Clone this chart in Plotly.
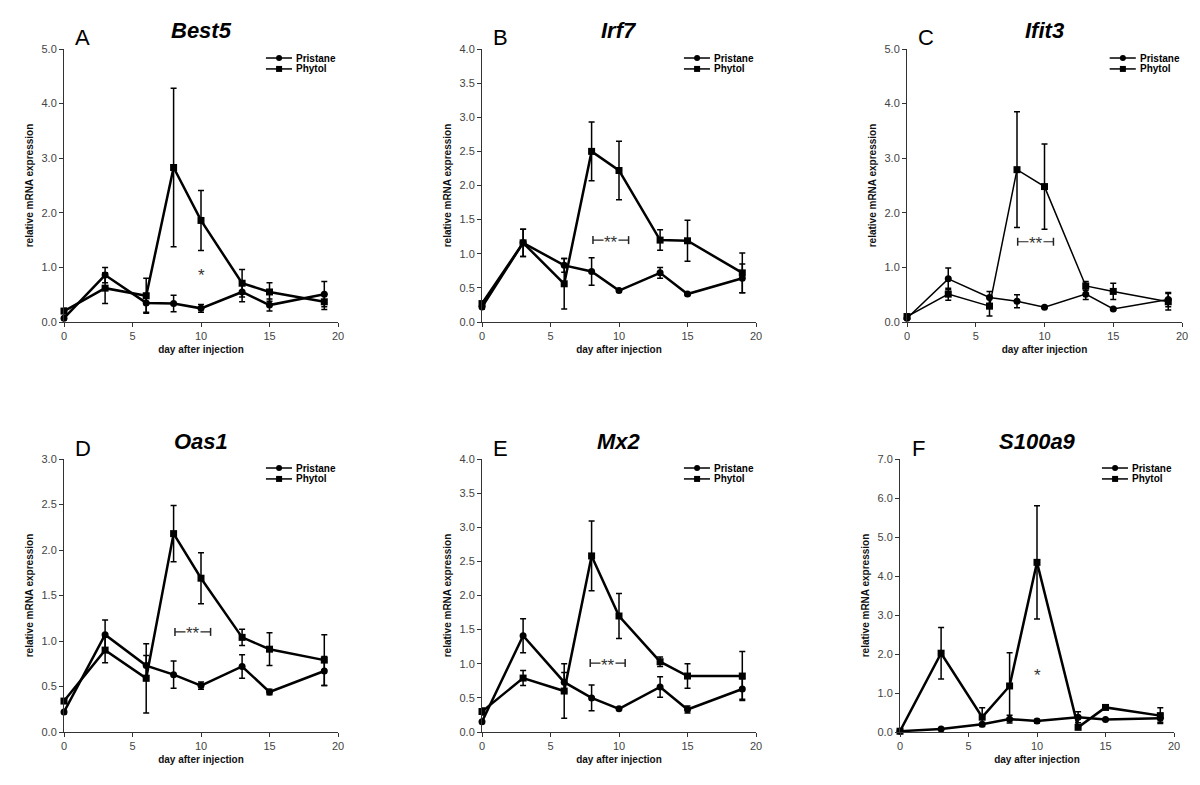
import plotly.graph_objects as go

# ---------------- data ----------------
days = [0, 3, 6, 8, 10, 13, 15, 19]
genes = ["Best5", "Irf7", "Ifit3", "Oas1", "Mx2", "S100a9"]
letters = ["A", "B", "C", "D", "E", "F"]
series_names = ["Pristane", "Phytol"]

pristane_A = [0.07, 0.86, 0.35, 0.34, 0.25, 0.55, 0.31, 0.51]
pristane_A_err = [0.03, 0.14, 0.17, 0.15, 0.07, 0.18, 0.11, 0.23]
phytol_A = [0.20, 0.62, 0.48, 2.83, 1.86, 0.71, 0.55, 0.37]
phytol_A_err = [0.05, 0.28, 0.32, 1.45, 0.55, 0.25, 0.17, 0.14]

pristane_B = [0.22, 1.16, 0.83, 0.74, 0.46, 0.72, 0.41, 0.64]
pristane_B_err = [0.03, 0.20, 0.10, 0.20, 0.02, 0.08, 0.02, 0.21]
phytol_B = [0.27, 1.16, 0.56, 2.50, 2.22, 1.20, 1.19, 0.72]
phytol_B_err = [0.03, 0.20, 0.37, 0.43, 0.43, 0.15, 0.30, 0.29]

pristane_C = [0.07, 0.79, 0.45, 0.38, 0.27, 0.51, 0.24, 0.41]
pristane_C_err = [0.02, 0.20, 0.11, 0.12, 0.02, 0.10, 0.02, 0.13]
phytol_C = [0.10, 0.51, 0.29, 2.79, 2.48, 0.66, 0.56, 0.37]
phytol_C_err = [0.02, 0.11, 0.18, 1.06, 0.78, 0.08, 0.15, 0.15]

pristane_D = [0.22, 1.07, 0.73, 0.63, 0.51, 0.72, 0.44, 0.67]
pristane_D_err = [0.02, 0.16, 0.11, 0.15, 0.04, 0.13, 0.03, 0.16]
phytol_D = [0.34, 0.90, 0.59, 2.18, 1.69, 1.04, 0.91, 0.79]
phytol_D_err = [0.02, 0.14, 0.38, 0.31, 0.28, 0.09, 0.18, 0.28]

pristane_E = [0.15, 1.41, 0.73, 0.50, 0.34, 0.66, 0.33, 0.63]
pristane_E_err = [0.02, 0.25, 0.14, 0.19, 0.02, 0.15, 0.05, 0.15]
phytol_E = [0.30, 0.79, 0.60, 2.58, 1.70, 1.03, 0.82, 0.82]
phytol_E_err = [0.05, 0.11, 0.40, 0.51, 0.33, 0.07, 0.18, 0.36]

pristane_F = [0.02, 0.08, 0.20, 0.33, 0.28, 0.38, 0.32, 0.35]
pristane_F_err = [0.00, 0.00, 0.02, 0.10, 0.05, 0.14, 0.02, 0.10]
phytol_F = [0.02, 2.02, 0.38, 1.18, 4.35, 0.12, 0.63, 0.42]
phytol_F_err = [0.00, 0.66, 0.24, 0.85, 1.45, 0.02, 0.03, 0.20]

pristane = [pristane_A, pristane_B, pristane_C, pristane_D, pristane_E, pristane_F]
pristane_err = [pristane_A_err, pristane_B_err, pristane_C_err,
                pristane_D_err, pristane_E_err, pristane_F_err]
phytol = [phytol_A, phytol_B, phytol_C, phytol_D, phytol_E, phytol_F]
phytol_err = [phytol_A_err, phytol_B_err, phytol_C_err,
              phytol_D_err, phytol_E_err, phytol_F_err]

y_max = [5, 4, 5, 3, 4, 7]
y_step = [1, 0.5, 1, 0.5, 0.5, 1]
x_ticks = [0, 5, 10, 15, 20]

# significance marks
sig_text = ["*", "**", "**", "**", "**", "*"]
sig_x1 = [10, 8.1, 8.05, 8.1, 7.9, 10]
sig_x2 = [10, 10.7, 10.65, 10.7, 10.45, 10]
sig_y = [0.9, 1.2, 1.47, 1.1, 1.01, 1.52]

# ---------------- layout geometry (pixels) ----------------
W, H = 1200, 785
OFF = 8  # page body margin compensation
panel_px_x = [(64, 338), (482, 756), (907, 1182), (64, 338), (482, 756), (900, 1174)]
panel_px_y = [(49, 322), (49, 322), (49, 322), (459, 732), (459, 732), (459, 732)]
line_widths = [2.5, 2.5, 1.5, 2.5, 2.5, 2.5]

FONT = "Liberation Sans, Arial, Helvetica, sans-serif"

fig = go.Figure()
layout = dict(
    width=W, height=H, autosize=False,
    margin=dict(l=0, r=0, t=0, b=0, pad=0, autoexpand=False),
    paper_bgcolor="white", plot_bgcolor="white",
    showlegend=False,
    font=dict(family=FONT, color="black"),
)
shapes = []
annotations = []

for i in range(6):
    k = "" if i == 0 else str(i + 1)
    xname, yname = "x" + k, "y" + k
    (xl, xr), (yt, yb) = panel_px_x[i], panel_px_y[i]
    xl, xr, yt, yb = xl - OFF, xr - OFF, yt - OFF, yb - OFF
    layout["xaxis" + k] = dict(
        domain=[xl / W, xr / W], anchor=yname, range=[0, 20],
        tickvals=x_ticks, ticks="outside", ticklen=4, tickwidth=1,
        tickcolor="#333", showline=True, linecolor="#333", linewidth=1,
        showgrid=False, zeroline=False, automargin=False,
        tickfont=dict(size=11, color="#444", family=FONT),
        title=dict(text="<b>day after injection</b>",
                   font=dict(size=10, color="#111", family=FONT), standoff=4),
    )
    n = int(round(y_max[i] / y_step[i]))
    yt_vals = [round(j * y_step[i], 2) for j in range(n + 1)]
    layout["yaxis" + k] = dict(
        domain=[1 - yb / H, 1 - yt / H], anchor=xname, range=[0, y_max[i]],
        tickvals=yt_vals, tickformat=".1f", ticks="outside", ticklen=4,
        tickwidth=1, tickcolor="#333", showline=True, linecolor="#333",
        linewidth=1, showgrid=False, zeroline=False, automargin=False,
        tickfont=dict(size=11, color="#444", family=FONT),
        title=dict(text="<b>relative mRNA expression</b>",
                   font=dict(size=10, color="#111", family=FONT), standoff=6),
    )

    lw = line_widths[i]
    for name, vals, errs, sym in [
        (series_names[0], pristane[i], pristane_err[i], "circle"),
        (series_names[1], phytol[i], phytol_err[i], "square"),
    ]:
        fig.add_trace(go.Scatter(
            x=days, y=vals, name=name, mode="lines+markers",
            xaxis=xname, yaxis=yname, cliponaxis=False,
            line=dict(color="black", width=lw),
            marker=dict(symbol=sym, size=7, color="black"),
            error_y=dict(type="data", array=errs, visible=True,
                         color="black", thickness=1.5, width=3),
        ))

    # title and panel letter
    annotations.append(dict(
        text="<b><i>%s</i></b>" % genes[i], xref=xname + " domain",
        yref=yname + " domain", x=0.5, y=1, yshift=18, showarrow=False,
        xanchor="center", yanchor="middle",
        font=dict(size=22, color="black", family=FONT)))
    annotations.append(dict(
        text=letters[i], xref=xname + " domain", yref=yname + " domain",
        x=0.068, y=1, yshift=11, showarrow=False, xanchor="center",
        yanchor="middle", font=dict(size=22, color="black", family=FONT)))

    # manual legend
    for r, (lab, sym) in enumerate([(series_names[0], "circle"),
                                    (series_names[1], "square")]):
        yy = 0.967 - r * 0.040
        shapes.append(dict(type="line", xref=xname + " domain",
                           yref=yname + " domain", x0=0.737, x1=0.832,
                           y0=yy, y1=yy, line=dict(color="black", width=1.5)))
        shapes.append(dict(type="circle" if sym == "circle" else "rect",
                           xref=xname + " domain", yref=yname + " domain",
                           xsizemode="pixel", ysizemode="pixel",
                           xanchor=0.785, yanchor=yy, x0=-3, x1=3, y0=-3, y1=3,
                           fillcolor="black", line=dict(width=0)))
        annotations.append(dict(
            text="<b>%s</b>" % lab, xref=xname + " domain",
            yref=yname + " domain", x=0.839, y=yy, showarrow=False,
            xanchor="left", yanchor="middle",
            font=dict(size=10, color="black", family=FONT)))

    # significance
    if sig_x1[i] != sig_x2[i]:
        shapes.append(dict(type="line", xref=xname, yref=yname,
                           x0=sig_x1[i], x1=sig_x2[i], y0=sig_y[i], y1=sig_y[i],
                           line=dict(color="#222", width=1.2)))
        for xe in (sig_x1[i], sig_x2[i]):
            shapes.append(dict(type="line", xref=xname, yref=yname,
                               ysizemode="pixel", yanchor=sig_y[i],
                               x0=xe, x1=xe, y0=-4, y1=4,
                               line=dict(color="#222", width=1.5)))
        annotations.append(dict(
            text=sig_text[i], xref=xname, yref=yname,
            x=(sig_x1[i] + sig_x2[i]) / 2, y=sig_y[i], yshift=-2,
            showarrow=False, bgcolor="white", borderpad=0,
            font=dict(size=17, color="#333", family=FONT)))
    else:
        annotations.append(dict(
            text=sig_text[i], xref=xname, yref=yname, x=sig_x1[i],
            y=sig_y[i], yshift=-3, showarrow=False,
            font=dict(size=17, color="#333", family=FONT)))

layout["shapes"] = shapes
layout["annotations"] = annotations
fig.update_layout(**layout)
fig.write_html("out.html")
